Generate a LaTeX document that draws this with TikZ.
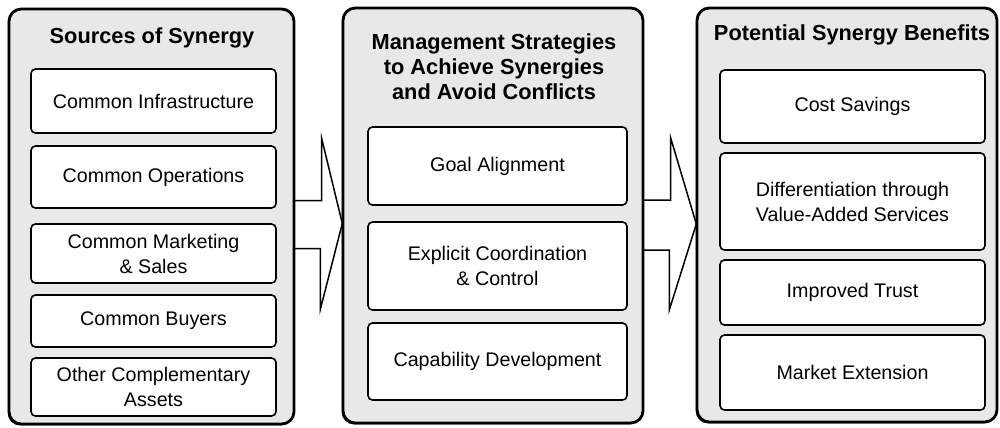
\documentclass[tikz,border=0pt]{standalone}
\usepackage{fontspec}
\setmainfont{Liberation Sans}
\usetikzlibrary{calc,fit,shadows}
\definecolor{ink}{RGB}{0,0,0}
\definecolor{panelgray}{RGB}{232,232,232}
\tikzset{
  every picture/.style={color=ink, line width=0.8pt},
  panel/.style={draw=ink, line width=1.6pt, fill=panelgray, rounded corners=7pt, inner sep=0pt,
    drop shadow={shadow xshift=-0.7pt, shadow yshift=-0.8pt, opacity=1, fill=ink}},
  head/.style={font=\fontsize{12.4}{14.2}\selectfont\bfseries, align=center, inner sep=0pt},
  item/.style={draw=ink, line width=0.9pt, fill=white, rounded corners=2.5pt, inner sep=2pt,
    align=center, font=\fontsize{11.2}{14.2}\selectfont},
  srcitem/.style={item, minimum width=4.9cm},
  mgtitem/.style={item, minimum width=5.18cm},
  benitem/.style={item, minimum width=5.3cm},
  bigarrow/.style={draw=ink, line width=0.85pt, fill=white, line join=miter},
}
\begin{document}
\begin{tikzpicture}[x=0.02cm, y=-0.02cm]
  % three panels joined by block arrows; one unit is one pixel of the reference
  \useasboundingbox (0,0) rectangle (1000,427);
  \path (9,9) coordinate (s1) (294,424) coordinate (s2)
        (343,8) coordinate (m1) (643,423) coordinate (m2)
        (697,8) coordinate (p1) (997,422) coordinate (p2);
  \node[fit=(s1)(s2), inner sep=0pt] (S) {};
  \node[fit=(m1)(m2), inner sep=0pt] (M) {};
  \node[fit=(p1)(p2), inner sep=0pt] (P) {};
  % block arrows sit behind the panels
  \draw[bigarrow] ($(S.east)+(-12,-16)$) -- ++(39,0) -- ++(0,-62) -- ($(M.west)+(0,8)$)
    -- ++(-22,86) -- ++(0,-61) -- ++(-39,0) -- cycle;
  \draw[bigarrow] ($(M.east)+(-12,-15.5)$) -- ++(39,0) -- ++(0,-62) -- ($(P.west)+(0,9)$)
    -- ++(-27,86) -- ++(0,-60) -- ++(-39,0) -- cycle;
  \draw[panel] (s1) rectangle (s2);
  \draw[panel] (m1) rectangle (m2);
  \draw[panel] (p1) rectangle (p2);
  % sources
  \node[head] (Sh) at (152,38) {Sources of Synergy};
  \node[srcitem, minimum height=1.28cm] (S1) at (153.5,101) {Common Infrastructure};
  \node[srcitem, minimum height=1.24cm] (S2) at (153.5,177) {Common Operations};
  \node[srcitem, minimum height=1.18cm] (S3) at (153.5,253.5) {Common Marketing\\\& Sales};
  \node[srcitem, minimum height=1.04cm] (S4) at (153.5,321) {Common Buyers};
  \node[srcitem, minimum height=1.16cm] (S5) at (153.5,387) {Other Complementary\\Assets};
  % strategies
  \node[head] (Mh) at (494,67) {Management Strategies\\to Achieve Synergies\\and Avoid Conflicts};
  \node[mgtitem, minimum height=1.56cm] (M1) at (497.5,166) {Goal Alignment};
  \node[mgtitem, minimum height=1.76cm] (M2) at (497.5,266) {Explicit Coordination\\\& Control};
  \node[mgtitem, minimum height=1.54cm] (M3) at (497.5,361.5) {Capability Development};
  % benefits
  \node[head] (Ph) at (852,35) {Potential Synergy Benefits};
  \node[benitem, minimum height=1.46cm] (P1) at (852.5,106.5) {Cost Savings};
  \node[benitem, minimum height=1.94cm] (P2) at (852.5,201.5) {Differentiation through\\Value-Added Services};
  \node[benitem, minimum height=1.30cm] (P3) at (852.5,292.5) {Improved Trust};
  \node[benitem, minimum height=1.50cm] (P4) at (852.5,372.5) {Market Extension};
\end{tikzpicture}
\end{document}
